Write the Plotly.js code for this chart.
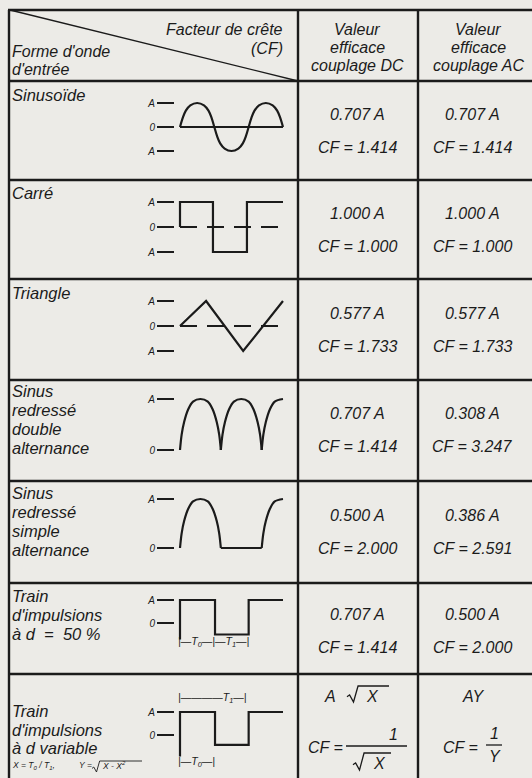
<!DOCTYPE html>
<html><head><meta charset="utf-8">
<script src="https://cdn.plot.ly/plotly-3.0.1.min.js"></script>
<style>html,body{margin:0;padding:0;background:#ecebe7;}#chart{width:532px;height:778px;}</style>
</head><body><div id="chart"></div>
<script>
// ---------------- data ----------------
const headerCorner = ["Facteur de crête", "(CF)"];
const headerLeft = ["Forme d'onde", "d'entrée"];
const headerDC = ["Valeur", "efficace", "couplage DC"];
const headerAC = ["Valeur", "efficace", "couplage AC"];
const rowLabels = [
  ["Sinusoïde"],
  ["Carré"],
  ["Triangle"],
  ["Sinus", "redressé", "double", "alternance"],
  ["Sinus", "redressé", "simple", "alternance"],
  ["Train", "d'impulsions", "à d&nbsp;&nbsp;=&nbsp;&nbsp;50 %"],
  ["Train", "d'impulsions", "à d variable"]
];
const dcValues = ["0.707 A", "1.000 A", "0.577 A", "0.707 A", "0.500 A", "0.707 A"];
const dcCF     = ["CF = 1.414", "CF = 1.000", "CF = 1.733", "CF = 1.414", "CF = 2.000", "CF = 1.414"];
const acValues = ["0.707 A", "1.000 A", "0.577 A", "0.308 A", "0.386 A", "0.500 A"];
const acCF     = ["CF = 1.414", "CF = 1.000", "CF = 1.733", "CF = 3.247", "CF = 2.591", "CF = 2.000"];
const lastRowDC = {value: ["A", "X"], cfLabel: "CF =", num: "1", den: "X"};
const lastRowAC = {value: "AY", cfLabel: "CF =", num: "1", den: "Y"};
const variableFormula = "X = T<sub>0</sub> / T<sub>1</sub>,";
const variableY = "Y =";
const variableRadicand = "X - X<sup>2</sup>";
const levelTicks3 = ["A", "0", "A"];
const levelTicks2 = ["A", "0"];
const markerRow6 = "|—T<sub>0</sub>—|—T<sub>1</sub>—|";
const markerRow7Top = "|————T<sub>1</sub>—|";
const markerRow7Bottom = "|—T<sub>0</sub>—|";

// waveforms: time in half-periods of the drawing, amplitude in units of A
const sineT = [0, 0.08, 0.17, 0.3, 0.5, 0.7, 0.83, 0.92, 1, 1.08, 1.17, 1.3, 1.5, 1.7, 1.83, 1.92, 2,
               2.08, 2.17, 2.3, 2.5, 2.7, 2.83, 2.92, 3];
const sineY = [0, 0.38, 0.68, 0.9, 1, 0.9, 0.68, 0.38, 0, -0.38, -0.68, -0.9, -1, -0.9, -0.68, -0.38, 0,
               0.38, 0.68, 0.9, 1, 0.9, 0.68, 0.38, 0];
const squareT = [0, 0, 0.96, 0.96, 1.95, 1.95, 3];
const squareY = [0, 1, 1, -1, -1, 1, 1];
const triangleT = [0, 0.76, 1.84, 3];
const triangleY = [0, 1, -1, 1];
const fullWaveT = [0, 0.048, 0.12, 0.24, 0.38, 0.595, 0.81, 0.95, 1.07, 1.142, 1.19, null,
                   1.19, 1.238, 1.31, 1.43, 1.57, 1.785, 2.0, 2.14, 2.26, 2.332, 2.38, null,
                   2.38, 2.428, 2.5, 2.62, 2.76, 3];
const fullWaveY = [0, 0.3, 0.55, 0.8, 0.95, 1, 0.95, 0.8, 0.55, 0.3, 0, null,
                   0, 0.3, 0.55, 0.8, 0.95, 1, 0.95, 0.8, 0.55, 0.3, 0, null,
                   0, 0.3, 0.55, 0.8, 0.95, 1];
const halfWaveT = [0, 0.048, 0.12, 0.24, 0.38, 0.595, 0.81, 0.95, 1.07, 1.142, 1.19, null,
                   1.19, 2.38, null,
                   2.38, 2.428, 2.5, 2.62, 2.76, 3];
const halfWaveY = [0, 0.3, 0.55, 0.8, 0.95, 1, 0.95, 0.8, 0.55, 0.3, 0, null,
                   0, 0, null,
                   0, 0.3, 0.55, 0.8, 0.95, 1];
const pulse50T = [0, 0, 1.02, 1.02, 2, 2, 3];
const pulse50Y = [-0.72, 1, 1, -0.5, -0.5, 1, 1];
const pulseVarT = [0, 0, 1.02, 1.02, 2, 2, 3];
const pulseVarY = [-0.93, 1, 1, -0.43, -0.43, 1, 1];
const zeroLineT = [0, 3];
const zeroLineY = [0, 0];

// ---------------- layout helpers ----------------
const W = 532, H = 778;
const FONT = "Liberation Sans, Arial, Helvetica, sans-serif";
const INK = "#1b1b1b";
const px = x => x / W;
const py = y => 1 - y / H;
const annotations = [];
const shapes = [];
function txt(text, x, baseline, size, anchor) {
  annotations.push({
    xref: "paper", yref: "paper", x: px(x), y: py(baseline - 0.35 * size),
    xanchor: anchor || "left", yanchor: "middle", showarrow: false,
    text: "<i>" + text + "</i>", borderpad: 0, borderwidth: 0,
    font: {family: FONT, size: size, color: INK, style: "italic"}
  });
}
function seg(x0, y0, x1, y1, w) {
  shapes.push({type: "line", xref: "paper", yref: "paper",
    x0: px(x0), y0: py(y0), x1: px(x1), y1: py(y1),
    line: {color: INK, width: w}});
}
function radical(x0, yb, ytop, xend, w, s) {
  const p = [[x0, yb - 4 * s], [x0 + 2 * s, yb - 5.5 * s], [x0 + 5 * s, yb], [x0 + 8.5 * s, ytop], [xend, ytop]];
  shapes.push({type: "path", xref: "paper", yref: "paper",
    path: "M" + p.map(q => px(q[0]) + "," + py(q[1])).join(" L"),
    line: {color: INK, width: w}});
}

// table grid
const rowLines = [10, 81, 180, 279, 380, 481, 583, 674];
rowLines.forEach(y => seg(8, y, 532, y, 2.6));
[9, 298, 418].forEach(x => seg(x, 10, x, 778, 2.4));
seg(10, 10, 298, 81, 1.3);

// header text
txt(headerCorner[0], 283, 35, 16, "right");
txt(headerCorner[1], 283, 54, 16, "right");
txt(headerLeft[0], 12, 57.5, 16, "left");
txt(headerLeft[1], 12, 75, 16, "left");
const headBase = [35, 53, 71];
headerDC.forEach((t, i) => txt(t, 357, headBase[i], 16, "center"));
headerAC.forEach((t, i) => txt(t, 478, headBase[i], 16, "center"));

// row labels
const labelBase = [[101], [199], [299], [397, 416, 435, 454], [499, 518, 537, 556], [602, 621, 640], [717, 736, 754]];
rowLabels.forEach((lines, r) => lines.forEach((t, i) => txt(t, 12, labelBase[r][i], 16.5, "left")));

// values
const valBase = [120, 219, 319, 419, 521, 620];
dcValues.forEach((t, r) => txt(t, 357, valBase[r], 16, "center"));
dcCF.forEach((t, r) => txt(t, 357, valBase[r] + 33.5, 16, "center"));
acValues.forEach((t, r) => txt(t, 472, valBase[r], 16, "center"));
acCF.forEach((t, r) => txt(t, 472, valBase[r] + 33.5, 16, "center"));

// last row formulas (DC column)
txt(lastRowDC.value[0], 330, 702, 16, "center");
radical(347, 702, 686, 389, 1.3, 1.3);
txt(lastRowDC.value[1], 372, 702, 16, "center");
txt(lastRowDC.cfLabel, 343, 753, 16, "right");
txt(lastRowDC.num, 393, 740, 16, "center");
seg(346, 746, 407, 746, 1.3);
radical(353, 770, 753, 391, 1.3, 1.3);
txt(lastRowDC.den, 379, 769, 16, "center");
// last row formulas (AC column)
txt(lastRowAC.value, 473, 702, 16, "center");
txt(lastRowAC.cfLabel, 478, 753, 16, "right");
txt(lastRowAC.num, 494, 739, 16, "center");
seg(486, 745, 502, 745, 1.3);
txt(lastRowAC.den, 495, 762, 16, "center");
// X and Y definitions
txt(variableFormula, 12, 768, 8.5, "left");
txt(variableY, 79, 768, 8.5, "left");
radical(92, 772, 761, 142, 0.9, 0.9);
txt(variableRadicand, 102, 768, 8.5, "left");

// pulse duration markers
txt(markerRow6, 178, 646, 10.5, "left");
txt(markerRow7Top, 178, 702, 10.5, "left");
txt(markerRow7Bottom, 178, 766, 10.5, "left");

// ---------------- waveforms ----------------
const T_LEFT = 180, T_PX = 34.33, XR = [-0.3, 3.3], YR = [-1.5, 1.5];
const waves = [
  {t: sineT, y: sineY, zero: 127, amp: 24, ticks: levelTicks3, vals: [1, 0, -1], shape: "spline", base: "solid"},
  {t: squareT, y: squareY, zero: 227, amp: 25, ticks: levelTicks3, vals: [1, 0, -1], shape: "linear", base: "17px,10px"},
  {t: triangleT, y: triangleY, zero: 326, amp: 25, ticks: levelTicks3, vals: [1, 0, -1], shape: "linear", base: "17px,10px"},
  {t: fullWaveT, y: fullWaveY, zero: 450, amp: 51, ticks: levelTicks2, vals: [1, 0], shape: "spline"},
  {t: halfWaveT, y: halfWaveY, zero: 548, amp: 49, ticks: levelTicks2, vals: [1, 0], shape: "spline"},
  {t: pulse50T, y: pulse50Y, zero: 623, amp: 23, ticks: levelTicks2, vals: [1, 0], shape: "linear"},
  {t: pulseVarT, y: pulseVarY, zero: 735, amp: 23, ticks: levelTicks2, vals: [1, 0], shape: "linear"}
];
const traces = [];
const layout = {
  width: W, height: H, margin: {l: 0, r: 0, t: 0, b: 0},
  paper_bgcolor: "#ecebe7", plot_bgcolor: "rgba(0,0,0,0)",
  showlegend: false, annotations: annotations, shapes: shapes
};
waves.forEach((w, i) => {
  const sfx = i === 0 ? "" : String(i + 1);
  const xa = "x" + sfx, ya = "y" + sfx;
  layout["xaxis" + sfx] = {
    domain: [px(T_LEFT + XR[0] * T_PX), px(T_LEFT + XR[1] * T_PX)],
    range: XR, visible: false, fixedrange: true, anchor: ya
  };
  layout["yaxis" + sfx] = {
    domain: [py(w.zero - YR[0] * w.amp), py(w.zero - YR[1] * w.amp)],
    range: YR, anchor: "free", position: px(174), side: "left",
    tickvals: w.vals, ticktext: w.ticks.map(s => "<i>" + s + "</i>"),
    ticks: "outside", ticklen: 17, tickwidth: 1.2, tickcolor: INK,
    tickfont: {family: FONT, size: 10, color: INK, style: "italic"},
    showgrid: false, zeroline: false, showline: false, fixedrange: true
  };
  if (w.base) {
    traces.push({x: zeroLineT, y: zeroLineY, xaxis: xa, yaxis: ya, mode: "lines",
      line: {color: INK, width: w.base === "solid" ? 2 : 1.8, dash: w.base}, hoverinfo: "skip"});
  }
  traces.push({x: w.t, y: w.y, xaxis: xa, yaxis: ya, mode: "lines", connectgaps: false,
    line: {color: INK, width: 2.2, shape: w.shape, smoothing: 0.9}, hoverinfo: "skip"});
});

Plotly.newPlot("chart", traces, layout, {staticPlot: true, displayModeBar: false});
</script>
</body></html>
